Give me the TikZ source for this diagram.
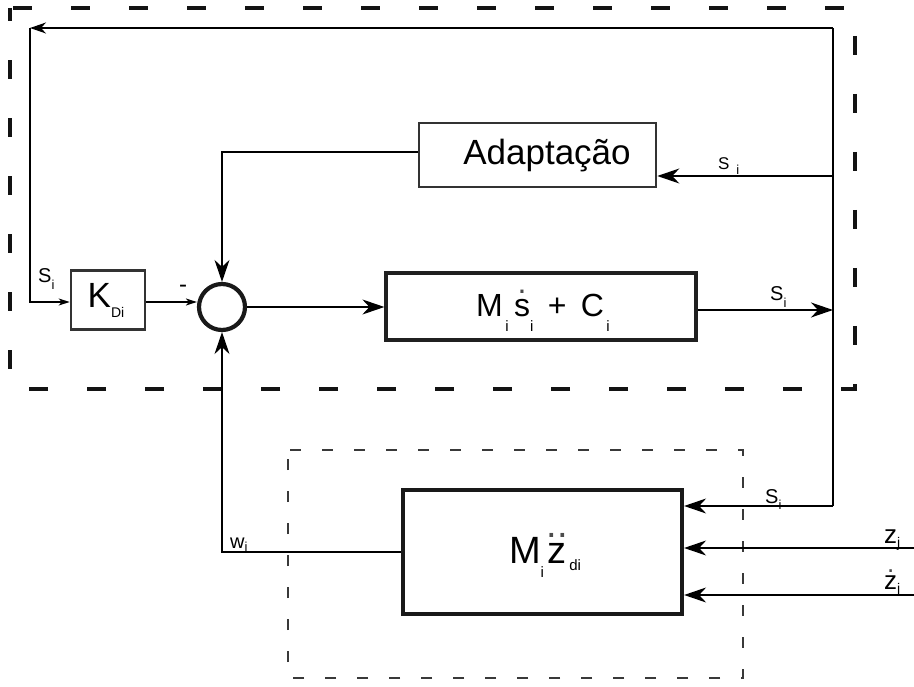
\documentclass[tikz,border=0pt]{standalone}
\usepackage{fontspec}
\setmainfont{Liberation Sans}
\usetikzlibrary{arrows.meta}
\newcommand\lowsub[3]{\raisebox{-#1pt}{\fontsize{#2}{#2}\selectfont #3}}
\newcommand\dotover[3]{\leavevmode\setbox0\hbox{#1}\rlap{\hbox to\wd0{\hss\raisebox{#2}{\textcolor{gray!60!black}{#3}}\hss}}\box0}
\newcommand\fs[1]{\fontsize{#1}{#1}\selectfont}
\begin{document}
\begin{tikzpicture}[x=1pt,y=-1pt,
  conn/.style={line width=1.4pt, black},
  big/.style={-{Stealth[length=22pt,width=15pt,inset=7pt]}},
  med/.style={-{Stealth[length=16pt,width=11pt,inset=5pt]}},
  small/.style={-{Stealth[length=11pt,width=7pt,inset=3pt]}},
  blockA/.style={draw=gray!40!black, line width=2.6pt, fill=white, inner sep=0pt},
  blockB/.style={draw=gray!25!black, line width=3.2pt, fill=white, inner sep=0pt},
  blockC/.style={draw=gray!20!black, line width=4.2pt, fill=white, inner sep=0pt},
  outerdash/.style={draw=gray!15!black, line width=4.5pt, dash pattern=on 19pt off 39pt},
  innerdash/.style={draw=gray!45!black, line width=2.8pt, dash pattern=on 11pt off 21pt},
  lbl/.style={inner sep=0pt, anchor=base west, font=\fs{20}},
  txt/.style={inner sep=0pt, anchor=base}]
\useasboundingbox (0,0) rectangle (914,687);
\fill[white] (0,0) rectangle (914,687);

% dashed frames
\draw[outerdash, dash phase=-3pt] (10,8) -- (855,8) -- (855,389) -- (10,389) -- cycle;
\draw[innerdash, dash phase=-2pt] (288,450) -- (743,450) -- (743,678) -- (288,678) -- cycle;

% blocks
\node[blockA, minimum width=74pt, minimum height=59pt] (kd) at (108,300) {};
\node[blockA, minimum width=237pt, minimum height=64pt] (ad) at (537.5,155) {};
\node[blockB, minimum width=310pt, minimum height=67pt] (mb) at (541,306.5) {};
\node[blockC, minimum width=279pt, minimum height=124pt] (lb) at (542.5,552) {};
\node[circle, draw=gray!20!black, line width=4.2pt, minimum size=46pt, inner sep=0pt] (sum) at (222,307) {};

% block texts
\node[txt] (kdt) at (106,308) {\fs{35}K\lowsub{10}{14}{Di}};
\node[txt] (adt) at (547,165) {\fs{35}Adaptação};
\node[txt] (mbt) at (543,317) {\fs{32}M\lowsub{15}{15}{\,i}\,\dotover{s}{0.72em}{.}\lowsub{15}{15}{i}\hspace{0.45em}+\hspace{0.45em}C\lowsub{15}{15}{\,i}};
\node[txt] (lbt) at (545,563) {\fs{38}M\lowsub{14}{15}{i}\hspace{0.1em}\dotover{z}{0.66em}{..}\lowsub{7}{15}{\,di}};

% coordinates
\coordinate (rt) at (833,28);
\coordinate (lt) at (30,28);
\coordinate (rb) at (833,506);
\coordinate (zj) at (914,548);
\coordinate (zdj) at (914,595);

% connectors
\draw[conn] (rt) -- (rb);
\draw[conn, med] (rt) -- (lt);
\draw[conn, small] (lt) -- (30,302) -- (kd.west |- 0,302);
\draw[conn, small] (kd.east |- 0,302) -- (sum.west |- 0,302);
\draw[conn, big] (sum.east) -- (mb.west |- sum.east);
\draw[conn, big] (mb.east |- 0,310) -- (rt |- 0,310);
\draw[conn, big] (rt |- 0,176) -- (ad.east |- 0,176);
\draw[conn, big] (ad.west |- 0,152) -- (sum.north |- 0,152) -- (sum.north);
\draw[conn, big] (rb) -- (lb.east |- rb);
\draw[conn, big] (zj) -- (lb.east |- zj);
\draw[conn, big] (zdj) -- (lb.east |- zdj);
\draw[conn, big] (lb.west |- 0,552) -- (sum.south |- 0,552) -- (sum.south);

% labels
\node[lbl] (l1) at (38,283) {S\lowsub{7}{13}{i}};
\node[inner sep=0pt, font=\fs{24}] (minus) at (183,289) {-};
\node[lbl] (l2) at (770,301) {S\lowsub{7}{13}{i}};
\node[lbl, font=\fs{17}] (l3) at (718,170) {S\hspace{0.4em}\lowsub{5}{13}{i}};
\node[lbl] (l4) at (765,503) {S\lowsub{6}{13}{i}};
\node[lbl] (l5) at (230,548) {w\lowsub{3}{13}{i}};
\node[lbl, font=\fs{26}] (l6) at (884,543) {z\lowsub{4}{14}{j}};
\node[lbl, font=\fs{26}] (l7) at (884,589) {\dotover{z}{0.62em}{.}\lowsub{4}{14}{j}};
\end{tikzpicture}
\end{document}
